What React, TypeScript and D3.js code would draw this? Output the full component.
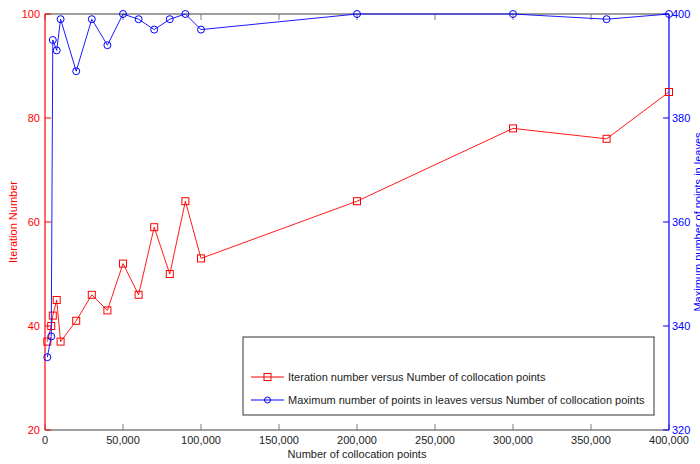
import React from "react";
import * as d3 from "d3";

const collocationPoints = [1500, 4000, 5000, 7500, 10000, 20000, 30000, 40000, 50000, 60000, 70000, 80000, 90000, 100000, 200000, 300000, 360000, 400000];
const iterationNumber = [37, 40, 42, 45, 37, 41, 46, 43, 52, 46, 59, 50, 64, 53, 64, 78, 76, 85];
const maxPointsInLeaves = [334, 338, 395, 393, 399, 389, 399, 394, 400, 399, 397, 399, 400, 397, 400, 400, 399, 400];

const xTicks = [0, 50000, 100000, 150000, 200000, 250000, 300000, 350000, 400000];
const leftTicks = [20, 40, 60, 80, 100];
const rightTicks = [320, 340, 360, 380, 400];

const seriesNames = [
  "Iteration number versus Number of collocation points",
  "Maximum number of points in leaves versus Number of collocation points",
];

const W = 700;
const H = 464;
const L = 45, R = 669, T = 14, B = 430;
const FONT = "'Liberation Sans', Arial, Helvetica, sans-serif";
const RED = "#ff0000";
const BLUE = "#0000ff";
const GRAY = "#7f7f7f";

export default function App() {
  const x = d3.scaleLinear().domain([0, 400000]).range([L, R]);
  const yL = d3.scaleLinear().domain([20, 100]).range([B, T]);
  const yR = d3.scaleLinear().domain([320, 400]).range([B, T]);
  const fmt = d3.format(",");

  const redLine = d3.line<number>().x((_, i) => x(collocationPoints[i])).y((d) => yL(d))(iterationNumber) || "";
  const blueLine = d3.line<number>().x((_, i) => x(collocationPoints[i])).y((d) => yR(d))(maxPointsInLeaves) || "";
  const ms = 7;
  const tl = 6;

  const legX = 243, legY = 337, legW = 411, legH = 78;

  return (
    <svg width={W} height={H} style={{ position: "absolute", left: 0, top: 0, background: "#fff" }} fontFamily={FONT}>
      <rect x={0} y={0} width={W} height={H} fill="#fff" />
      {/* top / bottom axes */}
      <line x1={L} x2={R} y1={T} y2={T} stroke={GRAY} strokeWidth={1.5} />
      <line x1={L} x2={R} y1={B} y2={B} stroke={GRAY} strokeWidth={1.5} />
      {xTicks.map((t) => (
        <g key={"xt" + t}>
          <line x1={x(t)} x2={x(t)} y1={B} y2={B - tl} stroke={GRAY} />
          <line x1={x(t)} x2={x(t)} y1={T} y2={T + tl} stroke={GRAY} />
          <text x={x(t)} y={444} fontSize={11} textAnchor="middle" fill="#222">{fmt(t)}</text>
        </g>
      ))}
      <text x={(L + R) / 2} y={458} fontSize={11} textAnchor="middle" fill="#222">Number of collocation points</text>

      {/* left axis */}
      <line x1={L} x2={L} y1={T} y2={B} stroke={RED} strokeWidth={1.2} />
      {leftTicks.map((t) => (
        <g key={"lt" + t}>
          <line x1={L} x2={L + tl} y1={yL(t)} y2={yL(t)} stroke={RED} />
          <text x={40} y={yL(t)} dy="0.35em" fontSize={11} textAnchor="end" fill={RED}>{t}</text>
        </g>
      ))}
      <text transform={`translate(17,${(T + B) / 2}) rotate(-90)`} fontSize={11} textAnchor="middle" fill={RED}>Iteration Number</text>

      {/* right axis */}
      <line x1={R} x2={R} y1={T} y2={B} stroke={BLUE} strokeWidth={1.2} />
      {rightTicks.map((t) => (
        <g key={"rt" + t}>
          <line x1={R} x2={R - tl} y1={yR(t)} y2={yR(t)} stroke={BLUE} />
          <text x={672} y={yR(t)} dy="0.35em" fontSize={11} textAnchor="start" fill={BLUE}>{t}</text>
        </g>
      ))}
      <text transform={`translate(702,${(T + B) / 2}) rotate(-90)`} fontSize={11} textAnchor="middle" fill={BLUE}>Maximum number of points in leaves</text>

      {/* series */}
      <path d={redLine} fill="none" stroke={RED} strokeWidth={0.9} />
      {iterationNumber.map((v, i) => (
        <rect key={"rm" + i} x={x(collocationPoints[i]) - ms / 2} y={yL(v) - ms / 2} width={ms} height={ms} fill="none" stroke={RED} strokeWidth={1} />
      ))}
      <path d={blueLine} fill="none" stroke={BLUE} strokeWidth={0.9} />
      {maxPointsInLeaves.map((v, i) => (
        <circle key={"bm" + i} cx={x(collocationPoints[i])} cy={yR(v)} r={ms / 2} fill="none" stroke={BLUE} strokeWidth={1} />
      ))}

      {/* legend */}
      <rect x={legX} y={legY} width={legW} height={legH} fill="#fff" stroke="#333" strokeWidth={1} />
      <line x1={251} x2={284} y1={377} y2={377} stroke={RED} />
      <rect x={267.5 - ms / 2} y={377 - ms / 2} width={ms} height={ms} fill="none" stroke={RED} />
      <text x={288} y={377} dy="0.35em" fontSize={11} fill="#222">{seriesNames[0]}</text>
      <line x1={251} x2={284} y1={400} y2={400} stroke={BLUE} />
      <circle cx={267.5} cy={400} r={ms / 2 - 0.5} fill="none" stroke={BLUE} />
      <text x={288} y={400} dy="0.35em" fontSize={11} fill="#222">{seriesNames[1]}</text>
    </svg>
  );
}
